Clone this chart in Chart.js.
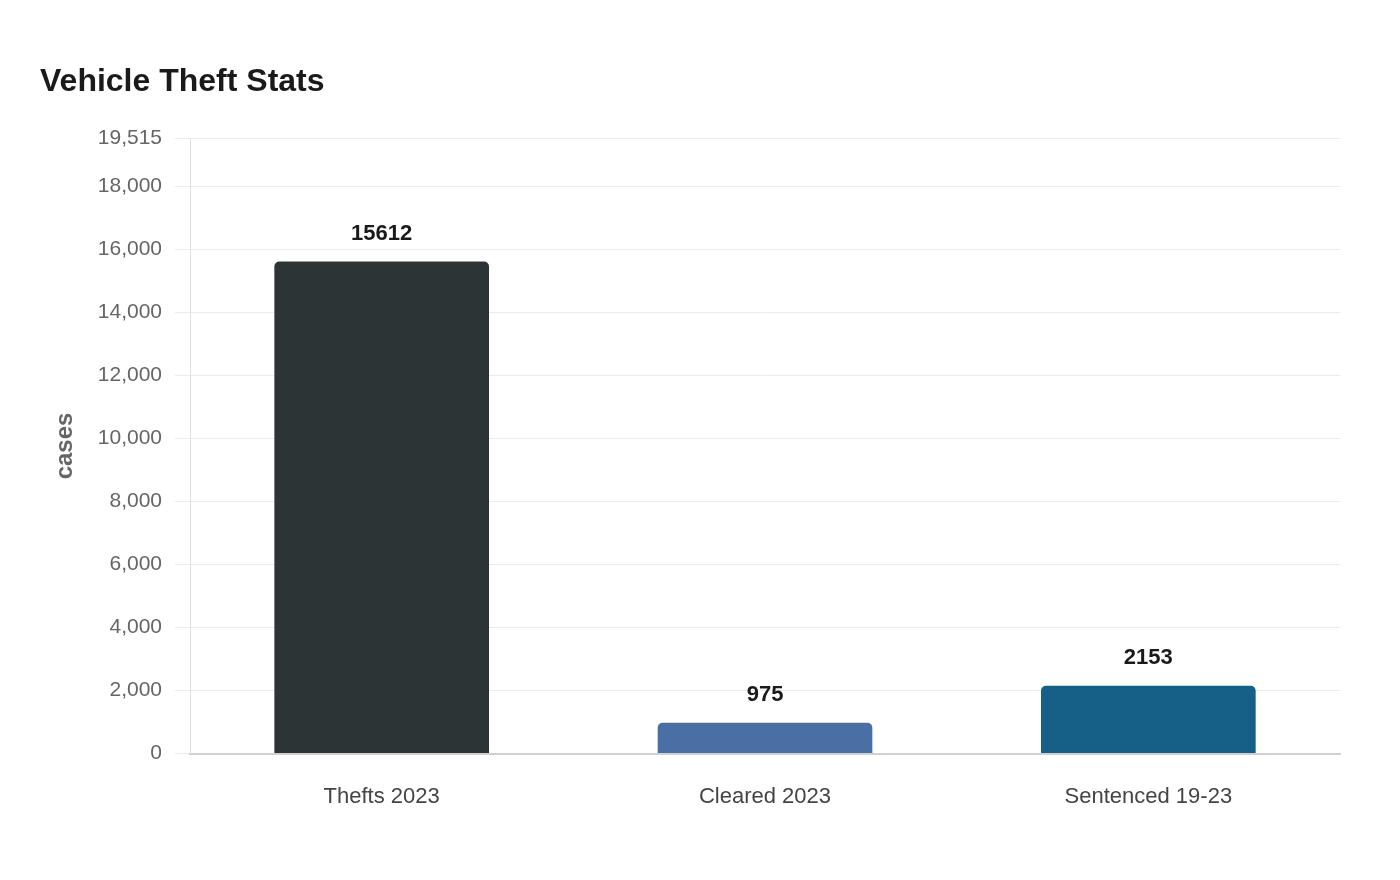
<!DOCTYPE html>
<html lang="en">
<head>
    <meta charset="UTF-8">
    <title>Vehicle Theft Stats</title>
    <script src="https://cdn.jsdelivr.net/npm/chart.js"></script>
    <style>
        body {
            margin: 0;
            background: #ffffff;
        }
        .chart-container {
            width: 1400px;
            height: 880px;
        }
    </style>
</head>
<body>
    <div class="chart-container">
        <canvas id="theftChart"></canvas>
    </div>

    <script>
        const categories = ['Thefts 2023', 'Cleared 2023', 'Sentenced 19-23'];
        const cases = [15612, 975, 2153];
        const barColors = ['#2d3436', '#4a6fa5', '#166088'];
        const yMax = Math.max(...cases) * 1.25; // 19,515

        const fontFamily = '"Liberation Sans", Arial, sans-serif';

        // draws the value above each bar
        const valueLabels = {
            id: 'valueLabels',
            afterDatasetsDraw(chart) {
                const ctx = chart.ctx;
                const meta = chart.getDatasetMeta(0);
                ctx.save();
                ctx.font = 'bold 22px ' + fontFamily;
                ctx.fillStyle = '#1a1a1a';
                ctx.textAlign = 'center';
                ctx.textBaseline = 'middle';
                meta.data.forEach((bar, i) => {
                    ctx.fillText(String(chart.data.datasets[0].data[i]), bar.x, bar.y - 28);
                });
                ctx.restore();
            }
        };

        const ctx = document.getElementById('theftChart').getContext('2d');
        new Chart(ctx, {
            type: 'bar',
            data: {
                labels: categories,
                datasets: [{
                    label: 'cases',
                    data: cases,
                    backgroundColor: barColors,
                    borderRadius: { topLeft: 5, topRight: 5 },
                    borderSkipped: 'bottom',
                    barPercentage: 0.7,
                    categoryPercentage: 0.8
                }]
            },
            options: {
                responsive: true,
                maintainAspectRatio: false,
                animation: false,
                layout: {
                    padding: { left: 40, right: 60, top: 36, bottom: 48 }
                },
                plugins: {
                    legend: { display: false },
                    tooltip: { enabled: false },
                    title: {
                        display: true,
                        text: 'Vehicle Theft Stats',
                        align: 'start',
                        color: '#1a1a1a',
                        font: { family: fontFamily, size: 32, weight: 'bold' },
                        padding: { top: 27, bottom: 37 }
                    }
                },
                scales: {
                    x: {
                        grid: { display: false },
                        border: { display: true, color: '#d0d0d0', width: 2 },
                        ticks: {
                            color: '#444444',
                            padding: 22,
                            font: { family: fontFamily, size: 22 }
                        }
                    },
                    y: {
                        min: 0,
                        max: yMax,
                        grid: { color: '#ebebeb', drawTicks: true, tickLength: 15 },
                        border: { display: true, color: '#e0e0e0' },
                        ticks: {
                            color: '#666666',
                            padding: 13,
                            font: { family: fontFamily, size: 21 }
                        },
                        title: {
                            display: true,
                            text: 'cases',
                            color: '#666666',
                            padding: { top: 11, bottom: 5 },
                            font: { family: fontFamily, size: 24, weight: 'bold' }
                        }
                    }
                }
            },
            plugins: [valueLabels]
        });
    </script>
</body>
</html>
